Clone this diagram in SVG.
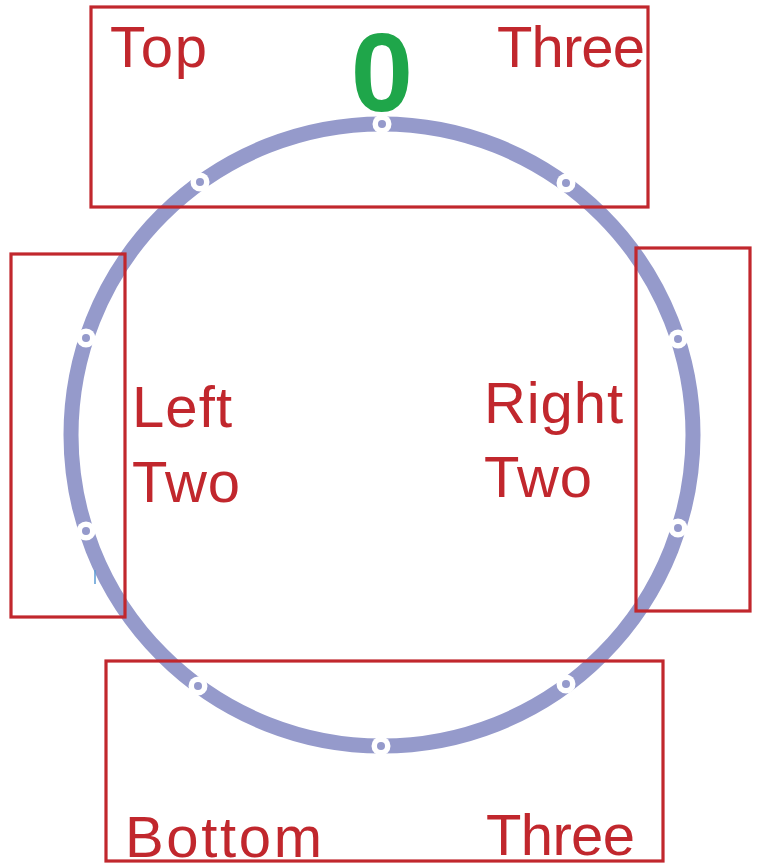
<svg xmlns="http://www.w3.org/2000/svg" width="758" height="865" viewBox="0 0 758 865">
<style>
.box{fill:none;stroke:#c1272d;stroke-width:3.2}
.lbl{font-family:"Liberation Sans",Arial,sans-serif;font-size:58px;fill:#c1272d}
.ring{fill:none;stroke:#959acb;stroke-width:15}
.dot-o{fill:#ffffff}
.dot-i{fill:#959acb}
</style>
<defs>
<g id="pt"><circle class="dot-o" r="9.5"/><circle class="dot-i" r="4"/></g>
</defs>
<g id="connectors">
<circle class="ring" cx="382" cy="435" r="311"/>
<line x1="95" y1="570" x2="95" y2="584" stroke="#5b9bd5" stroke-width="1.5"/>
</g>
<g id="points">
<use href="#pt" x="382" y="124"/>
<use href="#pt" x="200" y="182"/>
<use href="#pt" x="566" y="183"/>
<use href="#pt" x="86" y="338"/>
<use href="#pt" x="678" y="339"/>
<use href="#pt" x="86" y="531"/>
<use href="#pt" x="678" y="528"/>
<use href="#pt" x="198" y="686"/>
<use href="#pt" x="566" y="684"/>
<use href="#pt" x="381" y="746"/>
</g>
<g id="top">
<rect class="box" x="91" y="7" width="557" height="200"/>
<text class="lbl" x="110" y="67" textLength="97">Top</text>
<text class="lbl" x="497" y="67" textLength="148">Three</text>
</g>
<g id="zero">
<text x="382" y="111" text-anchor="middle" font-family="Liberation Sans,Arial,sans-serif" font-weight="bold" font-size="112" fill="#1fa64a">0</text>
</g>
<g id="left">
<rect class="box" x="11" y="254" width="114" height="363"/>
<text class="lbl" x="132" y="427" textLength="100">Left</text>
<text class="lbl" x="132" y="502" textLength="108">Two</text>
</g>
<g id="right">
<rect class="box" x="636" y="248" width="114" height="363"/>
<text class="lbl" x="484" y="423" textLength="139">Right</text>
<text class="lbl" x="484" y="497" textLength="108">Two</text>
</g>
<g id="bottom">
<rect class="box" x="106" y="661" width="557" height="200"/>
<text class="lbl" x="125" y="857" textLength="197">Bottom</text>
<text class="lbl" x="486" y="855" textLength="149">Three</text>
</g>
</svg>
